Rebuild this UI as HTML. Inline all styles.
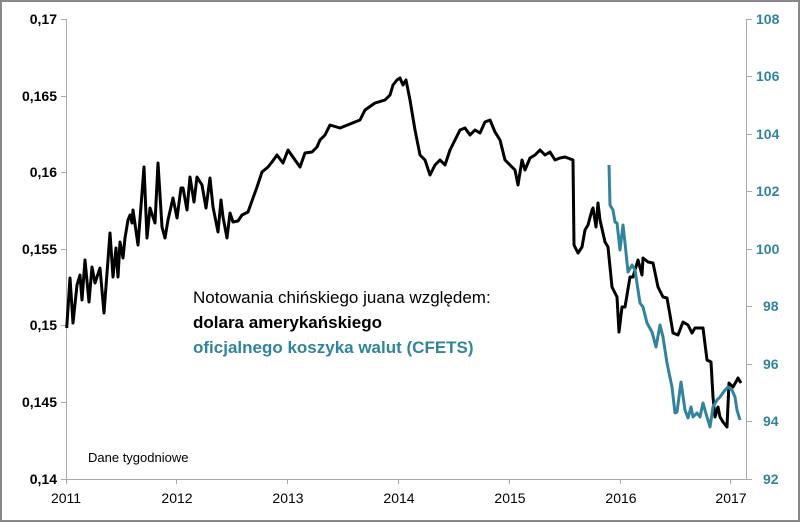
<!DOCTYPE html>
<html><head><meta charset="utf-8"><style>
body{margin:0;background:#fff}
svg text{font-family:"Liberation Sans",sans-serif}
</style></head><body>
<svg width="800" height="522" viewBox="0 0 800 522" xmlns="http://www.w3.org/2000/svg">
<rect x="1" y="1" width="798" height="520" fill="#fff" stroke="#888" stroke-width="2"/>
<g stroke="#aaa" stroke-width="1" fill="none">
<line x1="66.5" y1="19" x2="66.5" y2="479"/>
<line x1="66" y1="479.5" x2="747" y2="479.5"/>
<line x1="746.5" y1="19" x2="746.5" y2="479"/>
<path d="M61 19.5h5M61 96.5h5M61 172.5h5M61 249.5h5M61 325.5h5M61 402.5h5M61 479.5h5"/>
<path d="M747 19.5h5M747 76.5h5M747 134.5h5M747 191.5h5M747 249.5h5M747 306.5h5M747 364.5h5M747 421.5h5M747 479.5h5"/>
<path d="M66.5 479v5M176.5 479v5M287.5 479v5M398.5 479v5M509.5 479v5M620.5 479v5M730.5 479v5"/>
</g>
<g font-size="14" font-weight="bold" fill="#000" text-anchor="end">
<text x="57" y="24">0,17</text><text x="57" y="101">0,165</text><text x="57" y="177">0,16</text>
<text x="57" y="254">0,155</text><text x="57" y="330">0,15</text><text x="57" y="407">0,145</text><text x="57" y="484">0,14</text>
</g>
<g font-size="14" font-weight="bold" fill="#31849B" text-anchor="start">
<text x="756" y="24">108</text><text x="756" y="81">106</text><text x="756" y="139">104</text><text x="756" y="196">102</text>
<text x="756" y="254">100</text><text x="763" y="311">98</text><text x="763" y="369">96</text><text x="763" y="426">94</text><text x="763" y="484">92</text>
</g>
<g font-size="14" fill="#000" text-anchor="middle">
<text x="66" y="503">2011</text><text x="177" y="503">2012</text><text x="288" y="503">2013</text><text x="399" y="503">2014</text>
<text x="510" y="503">2015</text><text x="621" y="503">2016</text><text x="731" y="503">2017</text>
</g>
<text x="88" y="462" font-size="13" fill="#000">Dane tygodniowe</text>
<text x="193" y="303" font-size="17" fill="#000">Notowania chińskiego juana względem:</text>
<text x="193" y="328" font-size="17" font-weight="bold" fill="#000">dolara amerykańskiego</text>
<text x="193" y="353" font-size="17" font-weight="bold" fill="#31849B">oficjalnego  koszyka walut (CFETS)</text>
<polyline fill="none" stroke="#000" stroke-width="3" stroke-linejoin="round" points="66.7,328 70,278 73,323 77,285 80,275 82,300 85,260 89,302 92,267 95,283 100,268 104,313 110,233 113,277 116,248 118,277 120,242 123,258 125,238 128,220 130,215 132,223 133,210 138,245 144,167 147,238 150,208 155,223 158,163 162,227 165,238 168,220 173,198 177,218 181,188 183,188 187,210 190,177 194,202 197,177 202,185 206,208 210,178 213,207 218,232 221,200 223,217 227,238 230,213 233,222 238,221 242,215 248,212 253,198 257,187 262,172 268,167 272,162 277,155 283,163 288,150 295,160 300,167 305,153 312,152 317,147 320,140 325,135 330,125 340,128 350,124 360,120 365,110 375,103 385,100 390,95 393,85 397,80 400,78 403,85 406,80 410,100 415,130 420,155 425,160 430,175 435,165 440,160 445,165 450,150 455,140 460,130 465,128 470,135 475,130 480,133 485,122 490,120 495,132 500,140 505,160 510,165 515,170 518,185 522,160 525,170 530,158 535,155 540,150 545,155 550,152 555,160 560,158 565,157 573,160 574,245 578,253 582,247 585,230 588,225 592,210 593,208 596,227 598,203 600,220 605,242 608,247 612,287 615,293 617,297 619,332 622,307 625,307 630,277 633,277 638,260 642,275 643,258 648,262 653,263 658,287 663,297 667,298 670,315 673,333 678,335 683,322 688,325 692,333 695,328 703,328 707,360 711,362 713,397 715,417 718,407 720,417 723,422 727,427 729,383 733,387 737,380 738,378 741,383"/>
<polyline fill="none" stroke="#31849B" stroke-width="3" stroke-linejoin="round" points="609,165 610,205 613,210 615,222 617,223 620,250 623,225 625,243 628,272 632,265 635,270 640,303 643,307 647,323 652,332 656,347 660,325 663,337 667,363 672,387 675,413 677,412 681,382 685,410 688,418 691,407 693,417 697,413 700,417 703,403 707,417 710,427 713,407 717,400 720,397 725,390 728,387 732,390 735,397 737,410 740,420"/>
</svg>
</body></html>
